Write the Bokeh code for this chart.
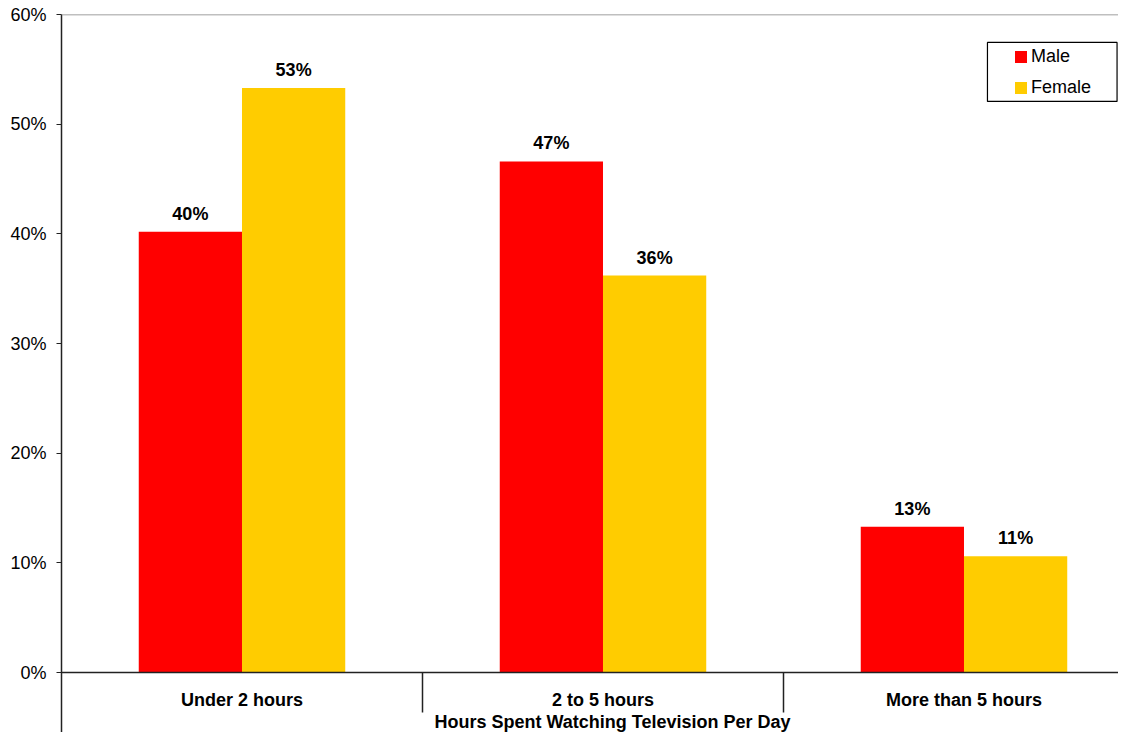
from bokeh.plotting import figure
from bokeh.models import (Range1d, LinearAxis, FixedTicker, PrintfTickFormatter,
                          Span, BoxAnnotation, ColumnDataSource, Label)
from bokeh.core.properties import value
from bokeh.embed import file_html
from bokeh.resources import INLINE

# ---- data ----
categories = ["Under 2 hours", "2 to 5 hours", "More than 5 hours"]
series = ["Male", "Female"]
male = [40.2, 46.6, 13.3]
female = [53.3, 36.2, 10.6]
y_ticks = [0, 10, 20, 30, 40, 50, 60]
colors = ["#FF0000", "#FFCC00"]
x_title = "Hours Spent Watching Television Per Day"

FONT = "Liberation Sans"
BAR_W = 0.286
AXIS_COLOR = "#222222"

centers = [i + 0.5 for i in range(len(categories))]
male_x = [c - BAR_W / 2 for c in centers]
female_x = [c + BAR_W / 2 for c in centers]

p = figure(width=1118, height=732,
           x_range=Range1d(0, 2.928), y_range=Range1d(-5.47, 60),
           x_axis_location=None, y_axis_location="left",
           output_backend="svg", toolbar_location=None,
           min_border_left=61, min_border_right=0,
           min_border_top=14, min_border_bottom=0)
p.outline_line_color = None
p.background_fill_color = "white"
for g in p.grid:
    g.visible = False

# bars
p.vbar(x=male_x, top=male, bottom=0, width=BAR_W, fill_color=colors[0],
       line_color=None, legend_label=series[0])
p.vbar(x=female_x, top=female, bottom=0, width=BAR_W, fill_color=colors[1],
       line_color=None, legend_label=series[1])

# data labels
lab_src = ColumnDataSource(dict(
    x=male_x + female_x,
    y=male + female,
    t=[f"{round(v)}%" for v in male + female],
))
p.text(x="x", y="y", text="t", source=lab_src, y_offset=-18,
       text_align="center", text_baseline="alphabetic",
       text_font=value(FONT), text_font_style="bold",
       text_font_size="18px", text_color="black")

# top border of plot area
p.add_layout(Span(location=60, dimension="width", line_color="#808080",
                  line_width=1.5))

# y axis
ya = p.yaxis[0]
ya.ticker = FixedTicker(ticks=y_ticks)
ya.formatter = PrintfTickFormatter(format="%d%%")
ya.axis_line_color = AXIS_COLOR
ya.axis_line_width = 1.5
ya.major_tick_line_color = AXIS_COLOR
ya.major_tick_out = 5
ya.major_tick_in = 0
ya.minor_tick_line_color = None
ya.major_label_standoff = 10
ya.major_label_text_font = FONT
ya.major_label_text_font_size = "18px"
ya.major_label_text_color = "black"

# x axis: line + separators between categories
sep_axis = LinearAxis(ticker=FixedTicker(ticks=[1, 2]), fixed_location=0,
                      major_label_overrides={1: "", 2: ""},
                      axis_line_color=AXIS_COLOR, axis_line_width=1.5,
                      major_tick_line_color=AXIS_COLOR, major_tick_line_width=1.5,
                      major_tick_out=40, major_tick_in=0,
                      minor_tick_line_color=None)
p.add_layout(sep_axis, "below")

# x axis: category labels
cat_axis = LinearAxis(ticker=FixedTicker(ticks=centers), fixed_location=0,
                      major_label_overrides={c: n for c, n in zip(centers, categories)},
                      axis_line_color=None, major_tick_line_color=None,
                      minor_tick_line_color=None,
                      major_tick_out=0, major_tick_in=0,
                      major_label_standoff=17,
                      major_label_text_font=FONT, major_label_text_font_style="bold",
                      major_label_text_font_size="18px", major_label_text_color="black")
p.add_layout(cat_axis, "below")

# x axis title
p.add_layout(Label(x=551, y=11, x_units="screen", y_units="screen", text=x_title,
                   text_align="center", text_baseline="alphabetic",
                   text_font=FONT, text_font_style="bold",
                   text_font_size="18px", text_color="black"))

# legend
leg = p.legend[0]
leg.location = (952, 634)
leg.padding = 0
leg.margin = 0
leg.spacing = 10
leg.glyph_width = 15
leg.glyph_height = 15
leg.label_height = 20
leg.label_standoff = 3
leg.border_line_color = None
leg.background_fill_alpha = 0
leg.label_text_font = FONT
leg.label_text_font_size = "18px"
leg.label_text_color = "black"

# legend frame
p.add_layout(BoxAnnotation(left=2.565, right=2.924, top=57.45, bottom=52.07,
                           fill_alpha=0, line_color="black", line_alpha=1,
                           line_width=1.2))

with open("out.html", "w") as f:
    f.write(file_html(p, INLINE))
